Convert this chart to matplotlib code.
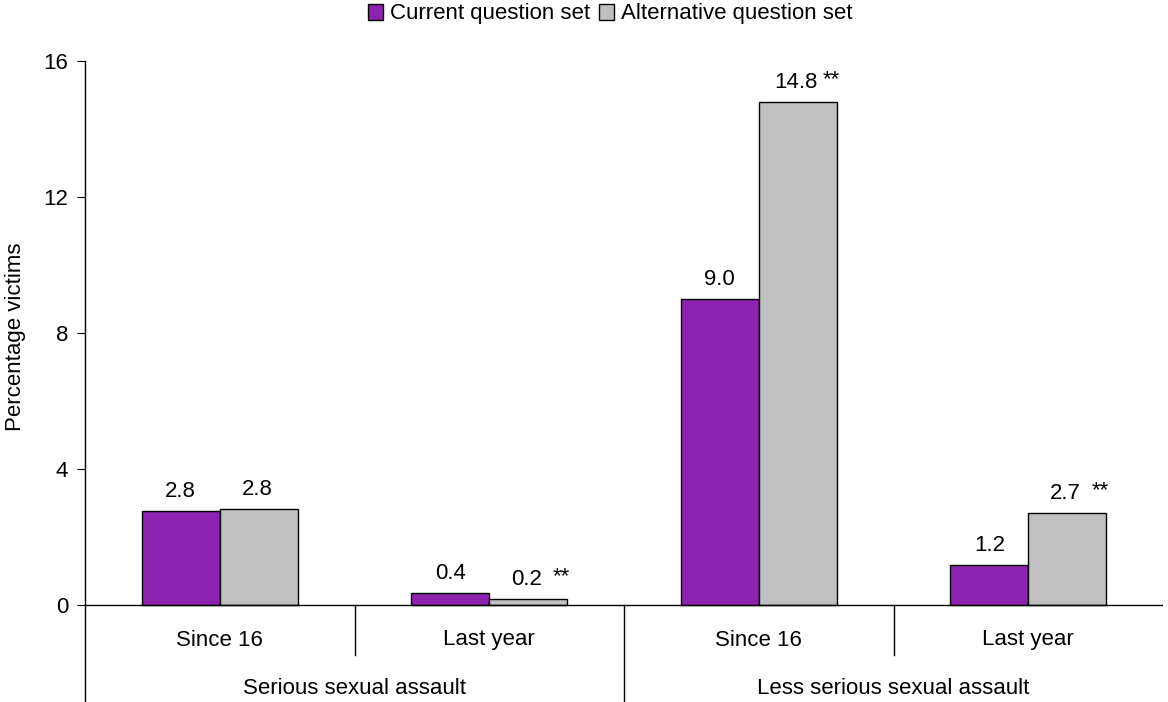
import numpy as np
import matplotlib.pyplot as plt

plt.rcParams['font.family'] = ['Liberation Sans', 'DejaVu Sans']

# data
periods = ['Since 16', 'Last year', 'Since 16', 'Last year']
groups = ['Serious sexual assault', 'Less serious sexual assault']
current = [2.76, 0.36, 9.0, 1.18]
alternative = [2.82, 0.18, 14.8, 2.7]
current_labels = ['2.8', '0.4', '9.0', '1.2']
alternative_labels = ['2.8', '0.2', '14.8', '2.7']
alternative_sig = ['', '**', '**', '**']
series_names = ['Current question set', 'Alternative question set']

purple = '#8E22B0'
grey = '#C0C0C0'
fs = 16

fig = plt.figure(figsize=(11.68, 7.02), dpi=100)
# axes spans from the bottom of the figure (axis line runs down) to the 16 tick
ax = fig.add_axes([85 / 1168, 0.0, 1078 / 1168, 641 / 702])
ymin = -97 / 34
ax.set_xlim(0, 4)
ax.set_ylim(ymin, 16)

x = np.arange(len(periods)) + 0.5
w = 0.289
ax.bar(x - w / 2, current, w, color=purple, edgecolor='black', linewidth=1, label=series_names[0], zorder=3)
ax.bar(x + w / 2, alternative, w, color=grey, edgecolor='black', linewidth=1, label=series_names[1], zorder=3)

# value labels
for i in range(len(periods)):
    ax.annotate(current_labels[i], (x[i] - w / 2, current[i]), xytext=(0, 10),
                textcoords='offset points', ha='center', va='baseline', fontsize=fs)
    ax.annotate(alternative_labels[i], (x[i] + w / 2, alternative[i]), xytext=(-1, 10),
                textcoords='offset points', ha='center', va='baseline', fontsize=fs)
    if alternative_sig[i]:
        ax.annotate(alternative_sig[i], (x[i] + w / 2, alternative[i]), xytext=(24, 12),
                    textcoords='offset points', ha='center', va='baseline', fontsize=fs)

# spines and axis lines
for s in ['top', 'right', 'bottom']:
    ax.spines[s].set_visible(False)
ax.spines['left'].set_linewidth(1)
ax.axhline(0, color='black', linewidth=1, zorder=4)
ax.set_yticks([0, 4, 8, 12, 16])
ax.tick_params(axis='y', direction='out', length=6, labelsize=fs, pad=6)
ax.set_xticks([])

# category separators and labels
sub_depth = -50 / 34
for xs, depth in [(1, sub_depth), (2, ymin), (3, sub_depth)]:
    ax.plot([xs, xs], [0, depth], color='black', linewidth=1, clip_on=False)
for i, p in enumerate(periods):
    ax.text(x[i], -35 / 34, p, ha='center', va='center', fontsize=fs)
for j, g in enumerate(groups):
    ax.text(1 + 2 * j, -83 / 34, g, ha='center', va='center', fontsize=fs)

ax.set_ylabel('Percentage victims', fontsize=fs)
ax.yaxis.set_label_coords((26 - 85) / 1078, (702 - 337) / 641)

fig.legend(loc='center', bbox_to_anchor=(610 / 1168, 1 - 14 / 702), ncol=2, frameon=False,
           fontsize=fs, handlelength=0.7, handleheight=0.7, handletextpad=0.3, columnspacing=0.4,
           borderpad=0)

fig.savefig('out.png', dpi=100)
